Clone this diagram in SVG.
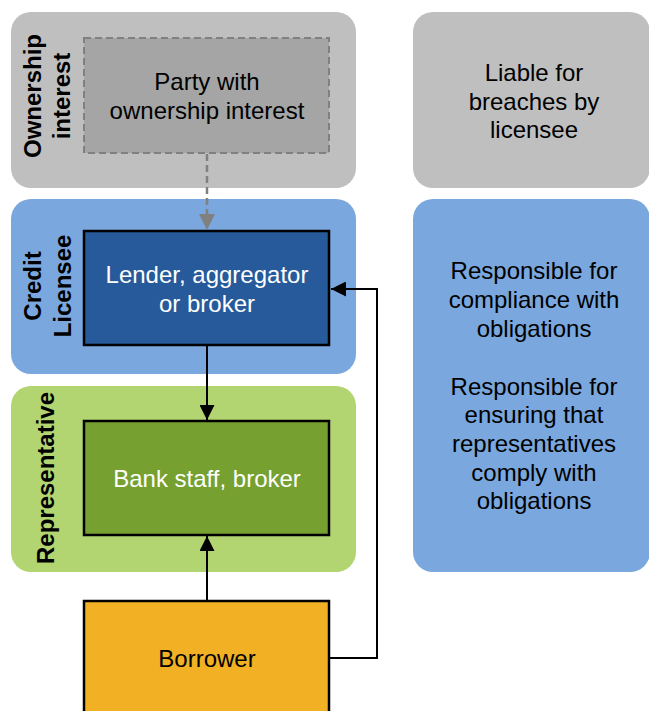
<svg xmlns="http://www.w3.org/2000/svg" width="649" height="711" viewBox="0 0 649 711">
<defs>
<style>
text{font-family:"Liberation Sans",Arial,sans-serif;font-size:24px;text-anchor:middle}
.lbl{font-weight:bold;fill:#000}
.dark{fill:#000}
.light{fill:#fff}
.box{stroke:#000;stroke-width:2.5}
.con{fill:none;stroke:#000;stroke-width:2}
</style>
<marker id="ah" viewBox="0 0 10 10" refX="10" refY="5" markerWidth="7.5" markerHeight="7.5" markerUnits="strokeWidth" orient="auto">
<path d="M0,0L10,5L0,10z" fill="#000"/>
</marker>
<marker id="ahg" viewBox="0 0 10 10" refX="10" refY="5" markerWidth="6.5" markerHeight="6.5" markerUnits="strokeWidth" orient="auto">
<path d="M0,0L10,5L0,10z" fill="#808080"/>
</marker>
</defs>
<rect width="649" height="711" fill="#fff"/>

<g id="lane-ownership">
<rect x="11" y="12" width="345" height="176" rx="20" fill="#bfbfbf"/>
<text class="lbl" transform="translate(41,96) rotate(-90)">Ownership</text>
<text class="lbl" transform="translate(70,96) rotate(-90)">interest</text>
</g>
<g id="lane-licensee">
<rect x="11" y="199" width="345" height="175" rx="20" fill="#7aa7dd"/>
<text class="lbl" transform="translate(41,286) rotate(-90)">Credit</text>
<text class="lbl" transform="translate(71,286) rotate(-90)">Licensee</text>
</g>
<g id="lane-representative">
<rect x="11" y="386" width="345" height="186" rx="20" fill="#b2d571"/>
<text class="lbl" transform="translate(54,478) rotate(-90)">Representative</text>
</g>

<g id="note-liable">
<rect x="413" y="12" width="237" height="176" rx="20" fill="#bfbfbf"/>
<text class="dark" x="534" y="81">Liable for</text>
<text class="dark" x="534" y="110">breaches by</text>
<text class="dark" x="534" y="138">licensee</text>
</g>
<g id="note-responsible">
<rect x="413" y="199" width="237" height="373" rx="20" fill="#7aa7dd"/>
<text class="dark" x="534" y="279">Responsible for</text>
<text class="dark" x="534" y="308">compliance with</text>
<text class="dark" x="534" y="337">obligations</text>
<text class="dark" x="534" y="395">Responsible for</text>
<text class="dark" x="534" y="423">ensuring that</text>
<text class="dark" x="534" y="452">representatives</text>
<text class="dark" x="534" y="481">comply with</text>
<text class="dark" x="534" y="509">obligations</text>
</g>

<g id="node-party">
<rect x="84" y="38" width="245" height="115" fill="#a5a5a5" stroke="#808080" stroke-width="2" stroke-dasharray="7,4"/>
<text class="dark" x="207" y="90">Party with</text>
<text class="dark" x="207" y="119">ownership interest</text>
</g>
<g id="node-lender">
<rect class="box" x="84" y="231" width="245" height="114" fill="#265a9a"/>
<text class="light" x="207" y="283">Lender, aggregator</text>
<text class="light" x="207" y="312">or broker</text>
</g>
<g id="node-bank">
<rect class="box" x="84" y="421" width="245" height="114" fill="#76a02f"/>
<text class="light" x="207" y="487">Bank staff, broker</text>
</g>
<g id="node-borrower">
<rect class="box" x="84" y="601" width="245" height="120" fill="#f2b124"/>
<text class="dark" x="207" y="667">Borrower</text>
</g>

<g id="connectors">
<path d="M207,154V230" fill="none" stroke="#808080" stroke-width="2.5" stroke-dasharray="7,4" marker-end="url(#ahg)"/>
<path class="con" d="M207,346V420" marker-end="url(#ah)"/>
<path class="con" d="M207,600V536" marker-end="url(#ah)"/>
<path class="con" d="M330,658H377V289H331" marker-end="url(#ah)"/>
</g>
</svg>
